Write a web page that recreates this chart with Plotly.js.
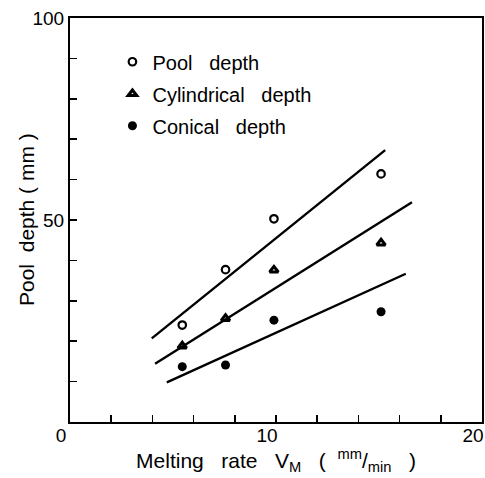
<!DOCTYPE html>
<html>
<head>
<meta charset="utf-8">
<script src="https://cdn.plot.ly/plotly-3.0.1.min.js"></script>
<style>html,body{margin:0;padding:0;background:#fff;}#chart{width:485px;height:478px;}</style>
</head>
<body>
<div id="chart"></div>
<script>
// Measured points
const meltRate = [5.45, 7.55, 9.9, 15.1];
const poolDepth = [24.0, 37.7, 50.3, 61.4];
const cylDepth = [18.8, 25.6, 37.6, 44.3];
const conDepth = [13.7, 14.1, 25.2, 27.3];
// Fitted lines (end points)
const poolFitX = [3.97, 15.3];
const poolFitY = [20.7, 67.3];
const cylFitX = [4.13, 16.6];
const cylFitY = [14.4, 54.4];
const conFitX = [4.7, 16.3];
const conFitY = [9.8, 36.7];
// Axis ticks
const xTickVals = [0, 2, 4, 6, 8, 10, 12, 14, 16, 18, 20];
const xTickText = ['0', '', '', '', '', '10', '', '', '', '', '20'];
const yTickVals = [0, 10, 20, 30, 40, 50, 60, 70, 80, 90, 100];
const yTickText = ['', '', '', '', '', '50', '', '', '', '', '100'];
const NB = '\u00a0';
const seriesNames = ['Pool' + NB.repeat(3) + 'depth', 'Cylindrical' + NB.repeat(3) + 'depth', 'Conical' + NB.repeat(3) + 'depth'];
const yTitle = 'Pool' + NB.repeat(2) + 'depth' + NB + '(' + NB + 'mm' + NB + ')';
const xTitle = 'Melting' + NB.repeat(3) + 'rate' + NB.repeat(3) + 'V<sub>M</sub>' + NB.repeat(3) + '(' + NB.repeat(2) + '<sup>mm</sup>/<sub>min</sub>' + NB.repeat(3) + ')';

const FONT = '"Liberation Sans", Arial, sans-serif';
const lineStyle = {color: '#000', width: 2.4};

const traces = [
  {x: meltRate, y: poolDepth, mode: 'markers', name: seriesNames[0], legendgroup: 'a',
   marker: {symbol: 'circle-open', size: 7.5, color: '#000', line: {width: 2.2, color: '#000'}}},
  {x: meltRate, y: cylDepth, mode: 'markers', name: seriesNames[1], legendgroup: 'b',
   marker: {symbol: 'triangle-up-open', size: 7.5, color: '#000', line: {width: 3, color: '#000'}}},
  {x: meltRate, y: conDepth, mode: 'markers', name: seriesNames[2], legendgroup: 'c',
   marker: {symbol: 'circle', size: 9, color: '#000'}},
  {x: poolFitX, y: poolFitY, mode: 'lines', line: lineStyle, showlegend: false, hoverinfo: 'skip'},
  {x: cylFitX, y: cylFitY, mode: 'lines', line: lineStyle, showlegend: false, hoverinfo: 'skip'},
  {x: conFitX, y: conFitY, mode: 'lines', line: lineStyle, showlegend: false, hoverinfo: 'skip'}
];

const axisCommon = {
  showgrid: false, zeroline: false, showline: true, mirror: true,
  linecolor: '#000', linewidth: 2, ticks: 'inside', tickcolor: '#000', tickwidth: 1.5, ticklen: 7,
  tickmode: 'array', tickfont: {family: FONT, size: 19, color: '#000'}, fixedrange: true
};

const layout = {
  width: 485, height: 478,
  margin: {l: 70, r: 3, t: 18, b: 56},
  paper_bgcolor: '#fff', plot_bgcolor: '#fff',
  font: {family: FONT, color: '#000'},
  showlegend: true,
  legend: {x: 0.103, y: 0.94, xanchor: 'left', yanchor: 'top', bgcolor: 'rgba(0,0,0,0)',
           font: {family: FONT, size: 20, color: '#000'}, traceorder: 'grouped', tracegroupgap: 3},
  xaxis: Object.assign({}, axisCommon, {range: [0, 20], tickvals: xTickVals, ticktext: xTickText,
    ticklabelshift: -9, ticklabelstandoff: -5, ticklabeloverflow: 'allow',
    title: {text: xTitle, font: {family: FONT, size: 21, color: '#000'}, standoff: 8}}),
  yaxis: Object.assign({}, axisCommon, {range: [0, 100], tickvals: yTickVals, ticktext: yTickText}),
  annotations: [
    {text: yTitle, xref: 'paper', yref: 'paper', x: 0, y: 0.5, xanchor: 'center', yanchor: 'middle',
     xshift: -44, textangle: -90, showarrow: false, font: {family: FONT, size: 21, color: '#000'}}
  ]
};

Plotly.newPlot('chart', traces, layout, {displayModeBar: false, staticPlot: true});
</script>
</body>
</html>
